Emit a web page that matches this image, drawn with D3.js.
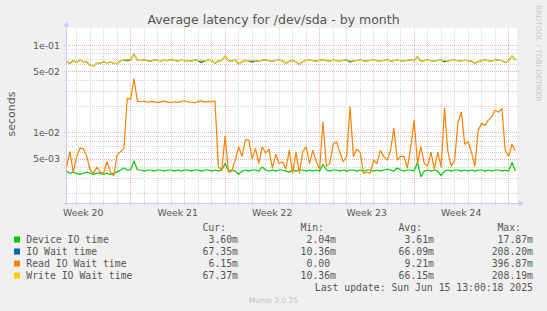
<!DOCTYPE html>
<html>
<head>
<meta charset="utf-8">
<script src="https://cdnjs.cloudflare.com/ajax/libs/d3/7.8.5/d3.min.js"></script>
<style>
body { margin: 0; background: #f0f0f0; }
svg { display: block; }
</style>
</head>
<body>
<svg id="chart"></svg>
<script>
var w = 547;
var h = 311;
var plot = { left: 66.5, right: 517, top: 28, bottom: 203 };

var startTime = new Date(2025, 4, 14, 6, 14);
var endTime = new Date(2025, 5, 16, 15, 7);
var stepHours = 6;

// values in milliseconds, one every 6 hours
var deviceMs = [
	3.6, 3.4, 3.5, 3.4, 3.3, 3.4, 3.5, 3.4, 3.3, 3.4,
	3.4, 3.3, 3.4, 3.3, 3.4, 3.5, 3.7, 3.9, 3.7, 3.7,
	4.7, 3.7, 3.7, 3.6, 3.7, 3.7, 3.6, 3.7, 3.7, 3.6,
	3.7, 3.7, 3.6, 3.7, 3.6, 3.7, 3.7, 3.6, 3.7, 3.7,
	3.6, 3.7, 3.7, 3.6, 3.7, 3.6, 3.7, 4.4, 3.6, 3.7,
	3.6, 3.3, 3.6, 3.7, 3.6, 3.7, 3.7, 3.6, 4.0, 3.7,
	3.6, 3.7, 3.6, 3.7, 3.7, 3.6, 3.5, 3.7, 3.6, 3.7,
	3.7, 3.6, 3.7, 3.6, 3.7, 3.6, 4.3, 3.7, 3.6, 3.7,
	3.7, 3.6, 3.7, 3.6, 3.7, 3.7, 3.6, 3.7, 3.6, 3.7,
	3.7, 3.6, 3.7, 3.6, 3.7, 3.8, 3.7, 3.6, 3.9, 3.7,
	3.6, 3.7, 3.7, 3.6, 4.5, 3.1, 3.6, 3.7, 3.6, 3.7,
	3.6, 3.2, 3.6, 3.7, 3.6, 3.7, 3.7, 3.6, 3.7, 3.6,
	3.7, 3.6, 3.7, 3.7, 3.6, 3.7, 3.6, 3.7, 3.7, 3.6,
	3.7, 3.6, 4.5, 3.6
];
var ioWaitMs = [
	64.4, 61.8, 66.0, 63.0, 67.3, 64.4, 63.5, 59.0, 57.5, 61.8,
	61.8, 64.4, 62.5, 63.9, 61.8, 61.0, 66.0, 67.3, 66.0, 67.3,
	79.0, 67.0, 66.5, 67.8, 66.0, 65.5, 67.3, 66.8, 65.8, 67.0,
	66.2, 68.0, 66.5, 65.6, 67.2, 66.0, 66.8, 65.5, 67.5, 66.3,
	63.0, 65.8, 67.1, 66.4, 62.0, 65.5, 66.8, 74.8, 66.4, 65.8,
	67.0, 60.6, 64.5, 66.8, 65.9, 63.5, 66.1, 65.4, 66.9, 67.5,
	66.0, 65.2, 66.7, 67.1, 65.9, 62.0, 65.0, 66.6, 64.2, 60.0,
	64.8, 66.5, 67.3, 66.2, 65.5, 66.9, 68.0, 66.3, 65.7, 67.0,
	66.4, 65.8, 66.9, 67.4, 64.0, 65.3, 66.6, 67.2, 66.0, 65.6,
	66.8, 67.1, 66.3, 65.9, 66.7, 67.0, 65.8, 66.4, 67.2, 66.0,
	65.7, 66.9, 67.3, 66.2, 73.5, 65.0, 66.4, 67.0, 66.1, 65.6,
	66.8, 67.2, 64.5, 65.9, 66.7, 67.3, 66.0, 65.6, 66.9, 66.3,
	65.4, 61.8, 64.5, 66.2, 67.0, 66.4, 65.8, 66.9, 67.2, 66.0,
	63.0, 66.2, 74.8, 67.35
];
var readMs = [
	4.0, 6.0, 3.5, 5.2, 6.6, 6.5, 5.3, 3.7, 3.4, 4.0,
	3.5, 3.4, 4.6, 3.5, 3.2, 5.5, 6.0, 6.5, 24.5, 24.0,
	41.0, 22.8, 22.4, 22.7, 22.1, 22.6, 22.3, 21.9, 22.5, 22.8,
	22.2, 21.8, 22.4, 22.0, 22.6, 23.0, 22.3, 22.1, 21.7, 22.5,
	22.9, 22.2, 22.6, 22.4, 22.9, 4.0, 3.7, 9.0, 3.5, 3.6,
	4.8, 6.8, 5.3, 8.2, 8.2, 5.0, 6.5, 4.4, 6.8, 5.8,
	6.4, 3.9, 5.6, 4.4, 4.6, 3.8, 6.2, 3.4, 5.9, 3.4,
	6.0, 6.8, 4.4, 6.2, 4.6, 3.8, 13.2, 4.1, 4.4, 7.3,
	7.8, 5.9, 4.6, 5.3, 19.7, 5.3, 6.4, 5.9, 3.4, 3.5,
	3.4, 4.8, 4.4, 6.2, 5.3, 4.8, 6.2, 11.1, 4.8, 5.3,
	5.3, 3.9, 6.8, 13.8, 4.4, 6.8, 4.4, 4.1, 5.9, 3.8,
	5.9, 4.0, 18.8, 6.0, 4.1, 4.8, 13.0, 17.0, 7.3, 7.8,
	5.9, 4.1, 10.6, 12.7, 12.0, 13.8, 15.1, 18.0, 17.0, 18.8,
	6.2, 5.3, 7.3, 6.15
];
var writeMs = [
	64.4, 61.8, 66.0, 63.0, 67.3, 64.4, 63.5, 59.0, 57.5, 61.8,
	61.8, 64.4, 62.5, 63.9, 61.8, 61.0, 66.0, 67.3, 68.5, 67.3,
	79.0, 67.0, 66.5, 67.8, 66.0, 65.5, 67.3, 66.8, 65.8, 67.0,
	66.2, 68.0, 66.5, 65.6, 67.2, 66.0, 66.8, 65.5, 67.5, 66.3,
	66.9, 65.8, 67.1, 66.4, 62.0, 65.5, 66.8, 74.8, 66.4, 65.8,
	67.0, 60.6, 64.5, 66.8, 65.9, 67.2, 66.1, 65.4, 66.9, 67.5,
	66.0, 65.2, 66.7, 67.1, 65.9, 62.0, 65.0, 66.6, 64.2, 60.0,
	64.8, 66.5, 67.3, 66.2, 65.5, 66.9, 68.0, 66.3, 65.7, 67.0,
	66.4, 65.8, 66.9, 67.4, 66.1, 65.3, 66.6, 67.2, 66.0, 65.6,
	66.8, 67.1, 66.3, 65.9, 66.7, 67.0, 65.8, 66.4, 67.2, 66.0,
	65.7, 66.9, 67.3, 66.2, 73.5, 65.0, 66.4, 67.0, 66.1, 65.6,
	66.8, 67.2, 66.5, 65.9, 66.7, 67.3, 66.0, 65.6, 66.9, 66.3,
	65.4, 61.8, 64.5, 66.2, 67.0, 66.4, 65.8, 66.9, 67.2, 66.0,
	63.0, 66.2, 74.8, 67.37
];

var seriesNames = ["Device IO time", "IO Wait time", "Read IO Wait time", "Write IO Wait time"];
var seriesColors = ["#00cc00", "#0066b3", "#ff8000", "#ffcc00"];
var curVals = ["3.60m", "67.35m", "6.15m", "67.37m"];
var minVals = ["2.04m", "10.36m", "0.00", "10.36m"];
var avgVals = ["3.61m", "66.09m", "9.21m", "66.15m"];
var maxVals = ["17.87m", "208.20m", "396.87m", "208.19m"];
var colHeads = ["Cur:", "Min:", "Avg:", "Max:"];

var yTickVals = [0.1, 0.05, 0.01, 0.005];
var yTickLabels = ["1e-01", "5e-02", "1e-02", "5e-03"];
var weekLabels = ["Week 20", "Week 21", "Week 22", "Week 23", "Week 24"];

var svg = d3.select("#chart")
	.attr("width", w)
	.attr("height", h);

svg.append("rect")
	.attr("width", w)
	.attr("height", h)
	.attr("fill", "#f0f0f0");

svg.append("rect")
	.attr("x", plot.left)
	.attr("y", plot.top)
	.attr("width", plot.right - plot.left)
	.attr("height", plot.bottom - plot.top)
	.attr("fill", "#ffffff");

var xScale = d3.scaleTime()
	.domain([startTime, endTime])
	.range([plot.left, plot.right]);
var yScale = d3.scaleLog()
	.domain([0.00155, 0.1567])
	.range([plot.bottom, plot.top]);

// grid
var minorY = yScale.ticks().filter(function (d) {
	return yTickVals.indexOf(+d.toPrecision(3)) < 0;
});
var minorColor = "#d2d2d2";
var majorColor = "#eab0b0";
var grid = svg.append("g")
	.attr("shape-rendering", "crispEdges")
	.attr("stroke-dasharray", "1,1");

grid.selectAll(".hminor")
	.data(minorY)
	.enter()
	.append("line")
	.attr("x1", plot.left - 3)
	.attr("x2", plot.right + 2)
	.attr("y1", function (d) { return Math.round(yScale(d)) + 0.5; })
	.attr("y2", function (d) { return Math.round(yScale(d)) + 0.5; })
	.attr("stroke", minorColor);

var days = d3.timeDay.range(startTime, endTime).filter(function (d) {
	return d.getDay() != 1;
});
grid.selectAll(".vminor")
	.data(days)
	.enter()
	.append("line")
	.attr("x1", function (d) { return Math.round(xScale(d)) + 0.5; })
	.attr("x2", function (d) { return Math.round(xScale(d)) + 0.5; })
	.attr("y1", plot.top)
	.attr("y2", plot.bottom + 3)
	.attr("stroke", minorColor);

grid.selectAll(".hmajor")
	.data(yTickVals)
	.enter()
	.append("line")
	.attr("x1", plot.left - 3)
	.attr("x2", plot.right + 2)
	.attr("y1", function (d) { return Math.round(yScale(d)) + 0.5; })
	.attr("y2", function (d) { return Math.round(yScale(d)) + 0.5; })
	.attr("stroke", majorColor);

var mondays = d3.timeMonday.range(startTime, endTime);
grid.selectAll(".vmajor")
	.data(mondays)
	.enter()
	.append("line")
	.attr("x1", function (d) { return Math.round(xScale(d)) + 0.5; })
	.attr("x2", function (d) { return Math.round(xScale(d)) + 0.5; })
	.attr("y1", plot.top)
	.attr("y2", plot.bottom + 3)
	.attr("stroke", majorColor);

// axes
var axisColor = "#c6ccf2";
svg.append("line")
	.attr("x1", plot.left - 3)
	.attr("x2", plot.right + 3)
	.attr("y1", plot.bottom + 0.5)
	.attr("y2", plot.bottom + 0.5)
	.attr("stroke", axisColor);
svg.append("line")
	.attr("x1", plot.left)
	.attr("x2", plot.left)
	.attr("y1", plot.bottom + 3)
	.attr("y2", plot.top - 2)
	.attr("stroke", axisColor);
svg.append("path")
	.attr("d", "M" + (plot.left - 3) + "," + (plot.top - 1.5) + "L" + (plot.left + 3) + "," + (plot.top - 1.5) + "L" + plot.left + "," + (plot.top - 6.5) + "Z")
	.attr("fill", axisColor);
svg.append("path")
	.attr("d", "M" + (plot.right + 2) + "," + (plot.bottom - 2.5) + "L" + (plot.right + 2) + "," + (plot.bottom + 3.5) + "L" + (plot.right + 7) + "," + (plot.bottom + 0.5) + "Z")
	.attr("fill", axisColor);

svg.selectAll(".ylab")
	.data(yTickVals)
	.enter()
	.append("text")
	.attr("x", plot.left - 6.5)
	.attr("y", function (d) { return yScale(d) + 3.5; })
	.attr("text-anchor", "end")
	.attr("font-family", "DejaVu Sans")
	.attr("font-size", "9.4px")
	.attr("fill", "#555")
	.text(function (d, i) { return yTickLabels[i]; });

svg.selectAll(".xlab")
	.data(weekLabels)
	.enter()
	.append("text")
	.attr("x", function (d, i) {
		var mon = d3.timeMonday.offset(d3.timeMonday.floor(startTime), i);
		return xScale(d3.timeHour.offset(mon, 84));
	})
	.attr("y", plot.bottom + 12.5)
	.attr("text-anchor", "middle")
	.attr("font-family", "DejaVu Sans")
	.attr("font-size", "9.3px")
	.attr("fill", "#555")
	.text(function (d) { return d; });

svg.append("text")
	.attr("transform", "translate(15,114) rotate(-90)")
	.attr("text-anchor", "middle")
	.attr("font-family", "DejaVu Sans")
	.attr("font-size", "11px")
	.attr("fill", "#555")
	.text("seconds");

svg.append("text")
	.attr("x", w / 2)
	.attr("y", 23.5)
	.attr("text-anchor", "middle")
	.attr("font-family", "DejaVu Sans")
	.attr("font-size", "12.5px")
	.attr("fill", "#555")
	.text("Average latency for /dev/sda - by month");

svg.append("text")
	.attr("transform", "translate(536,5) rotate(90)")
	.attr("font-family", "DejaVu Sans")
	.attr("font-size", "7.5px")
	.attr("fill", "#c8c8c8")
	.text("RRDTOOL / TOBI OETIKER");

// lines
var line = d3.line()
	.x(function (d, i) {
		return xScale(d3.timeHour.offset(startTime, i * stepHours));
	})
	.y(function (d) {
		return yScale(d / 1000);
	});
var allSeries = [deviceMs, ioWaitMs, readMs, writeMs];
svg.selectAll(".series")
	.data(allSeries)
	.enter()
	.append("path")
	.attr("d", line)
	.attr("fill", "none")
	.attr("stroke", function (d, i) { return seriesColors[i]; })
	.attr("stroke-width", 1.2)
	.attr("stroke-linejoin", "round");

// legend
var mono = "DejaVu Sans Mono";
var colRight = [238, 336, 434, 533];
var legendTop = 243;
var rowH = 12;
var cols = [curVals, minVals, avgVals, maxVals];

svg.selectAll(".head")
	.data(colHeads)
	.enter()
	.append("text")
	.attr("x", function (d, i) { return colRight[i] - 12; })
	.attr("y", legendTop - rowH)
	.attr("text-anchor", "end")
	.attr("font-family", mono)
	.attr("font-size", "9.8px")
	.attr("fill", "#555")
	.text(function (d) { return d; });

var rows = svg.selectAll(".row")
	.data(seriesNames)
	.enter()
	.append("g")
	.attr("transform", function (d, i) { return "translate(0," + (legendTop + i * rowH) + ")"; });
rows.append("rect")
	.attr("x", 14)
	.attr("y", -6.5)
	.attr("width", 6)
	.attr("height", 6)
	.attr("fill", function (d, i) { return seriesColors[i]; });
rows.append("text")
	.attr("x", 26.3)
	.attr("font-family", mono)
	.attr("font-size", "9.8px")
	.attr("fill", "#555")
	.text(function (d) { return d; });
rows.each(function (d, r) {
	var g = d3.select(this);
	cols.forEach(function (vals, c) {
		var v = vals[r];
		g.append("text")
			.attr("x", colRight[c])
			.attr("text-anchor", "end")
			.attr("font-family", mono)
			.attr("font-size", "9.8px")
			.attr("fill", "#555")
			.text(/m$/.test(v) ? v : v + "\u00a0");
	});
});

svg.append("text")
	.attr("x", colRight[3])
	.attr("y", legendTop + 4 * rowH)
	.attr("text-anchor", "end")
	.attr("font-family", mono)
	.attr("font-size", "9.8px")
	.attr("fill", "#555")
	.text("Last update: Sun Jun 15 13:00:18 2025");

svg.append("text")
	.attr("x", w / 2)
	.attr("y", 303)
	.attr("text-anchor", "middle")
	.attr("font-family", "DejaVu Sans")
	.attr("font-size", "7.5px")
	.attr("fill", "#bdbdbd")
	.text("Munin 2.0.75");
</script>
</body>
</html>
